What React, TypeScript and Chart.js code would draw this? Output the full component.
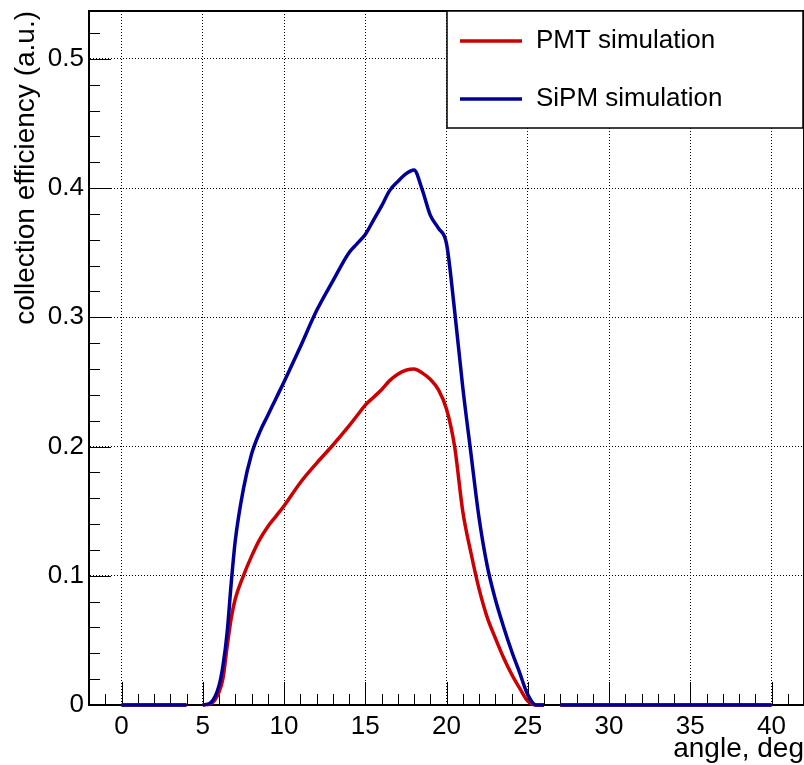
import React, { useEffect, useRef } from "react";
import { Chart, registerables } from "chart.js";

Chart.register(...registerables);

// ---- data ----
const angles = [
  0, 1, 2, 3, 4, 4.5,
  5, 5.5, 6, 6.25, 6.5, 6.75, 7, 7.5, 8, 8.5, 9, 9.5, 10, 11, 12, 13, 14, 14.5, 15, 15.5, 16, 16.5, 17, 17.5,
  18, 18.5, 19, 19.5, 20, 20.5, 21, 21.5, 22, 22.5, 23, 23.5, 24, 24.5, 25, 25.5, 26, 26.5,
  27, 30, 35, 40,
];
const pmtSimulation: (number | null)[] = [
  0, 0, 0, 0, 0, null,
  0, 0.001, 0.01, 0.021, 0.045, 0.067, 0.082, 0.1, 0.115, 0.128, 0.138, 0.146, 0.154, 0.172, 0.187, 0.201, 0.216, 0.224, 0.232, 0.238, 0.244, 0.251, 0.256, 0.259,
  0.26, 0.257, 0.252, 0.244, 0.229, 0.2, 0.15, 0.118, 0.09, 0.068, 0.052, 0.037, 0.024, 0.013, 0.003, 0, 0, null,
  0, 0, 0, 0,
];
const sipmSimulation: (number | null)[] = [
  0, 0, 0, 0, 0, null,
  0, 0.002, 0.015, 0.031, 0.056, 0.094, 0.127, 0.167, 0.194, 0.211, 0.224, 0.237, 0.25, 0.277, 0.305, 0.328, 0.35, 0.357, 0.364, 0.375, 0.386, 0.398, 0.405, 0.411,
  0.414, 0.399, 0.379, 0.369, 0.357, 0.305, 0.246, 0.195, 0.145, 0.108, 0.082, 0.061, 0.042, 0.025, 0.008, 0, 0, null,
  0, 0, 0, 0,
];
const seriesLabels = ["PMT simulation", "SiPM simulation"];
const seriesColors = ["#cc0000", "#000099"];
const xTickValues = [0, 5, 10, 15, 20, 25, 30, 35, 40];
const yTickValues = [0, 0.1, 0.2, 0.3, 0.4, 0.5];
const xTitle = "angle, deg";
const yTitle = "collection efficiency (a.u.)";

const FONT = "'Liberation Sans', Arial, Helvetica, sans-serif";

const rootFramePlugin = {
  id: "rootFrame",
  beforeDatasetsDraw(chart: any) {
    const { ctx, chartArea } = chart;
    const xs = chart.scales.x;
    const ys = chart.scales.y;
    ctx.save();
    ctx.strokeStyle = "#000";
    ctx.lineWidth = 1;
    // x ticks (inside, upward)
    for (let v = -1; v <= 41; v += 1) {
      const px = Math.round(xs.getPixelForValue(v)) + 0.5;
      const len = v % 5 === 0 ? 23 : 11;
      ctx.beginPath();
      ctx.moveTo(px, chartArea.bottom);
      ctx.lineTo(px, chartArea.bottom - len);
      ctx.stroke();
    }
    // y ticks (inside, rightward)
    for (let i = 1; i <= 26; i++) {
      const v = i * 0.02;
      const py = Math.round(ys.getPixelForValue(v)) + 0.5;
      const len = i % 5 === 0 ? 22 : 11;
      ctx.beginPath();
      ctx.moveTo(chartArea.left, py);
      ctx.lineTo(chartArea.left + len, py);
      ctx.stroke();
    }
    // frame
    ctx.lineWidth = 2;
    ctx.strokeRect(chartArea.left, chartArea.top, chartArea.right - chartArea.left, chartArea.bottom - chartArea.top);
    ctx.restore();
  },
  afterDraw(chart: any) {
    const { ctx, chartArea } = chart;
    const bx = 447;
    const by = chartArea.top;
    const bw = 356;
    const bh = 117;
    ctx.save();
    ctx.fillStyle = "#fff";
    ctx.fillRect(bx, by, bw, bh);
    ctx.strokeStyle = "#000";
    ctx.lineWidth = 1.5;
    ctx.strokeRect(bx, by, bw, bh);
    const rows = [by + 30, by + 88];
    chart.data.datasets.forEach((ds: any, i: number) => {
      const y = rows[i];
      ctx.strokeStyle = ds.borderColor;
      ctx.lineWidth = 3.5;
      ctx.beginPath();
      ctx.moveTo(bx + 13, y);
      ctx.lineTo(bx + 75, y);
      ctx.stroke();
      ctx.fillStyle = "#000";
      ctx.font = `26px ${FONT}`;
      ctx.textBaseline = "middle";
      ctx.textAlign = "left";
      ctx.fillText(ds.label, bx + 89, y);
    });
    ctx.restore();
  },
};

export default function App() {
  const ref = useRef<HTMLCanvasElement | null>(null);
  useEffect(() => {
    if (!ref.current) return;
    const mk = (vals: (number | null)[]) => angles.map((a, i) => ({ x: a, y: vals[i] }));
    const chart = new Chart(ref.current, {
      type: "line",
      data: {
        datasets: [
          {
            label: seriesLabels[0],
            data: mk(pmtSimulation),
            borderColor: seriesColors[0],
            backgroundColor: seriesColors[0],
            borderWidth: 3.5,
            pointRadius: 0,
            cubicInterpolationMode: "monotone",
            spanGaps: false,
            clip: false,
            order: 1,
          },
          {
            label: seriesLabels[1],
            data: mk(sipmSimulation),
            borderColor: seriesColors[1],
            backgroundColor: seriesColors[1],
            borderWidth: 3.5,
            pointRadius: 0,
            cubicInterpolationMode: "monotone",
            spanGaps: false,
            clip: false,
            order: 0,
          },
        ],
      } as any,
      options: {
        responsive: false,
        animation: false,
        devicePixelRatio: 1,
        layout: { padding: { top: 11, right: 6, left: 0, bottom: 0 } },
        plugins: { legend: { display: false }, tooltip: { enabled: false } },
        scales: {
          x: {
            type: "linear",
            min: -2,
            max: 42,
            afterFit: (s: any) => { s.height = 60; s.paddingLeft = 0; s.paddingRight = 0; },
            afterBuildTicks: (s: any) => { s.ticks = xTickValues.map((v) => ({ value: v })); },
            grid: { color: "#000", lineWidth: 1, drawTicks: false },
            border: { display: true, color: "#000", width: 1, dash: [1, 2] },
            ticks: {
              autoSkip: false,
              maxRotation: 0,
              padding: 6,
              color: "#000",
              font: { family: FONT, size: 26 },
              callback: (v: any) => String(v),
            },
            title: {
              display: true,
              text: xTitle,
              align: "end",
              color: "#000",
              font: { family: FONT, size: 28, lineHeight: 1.1 },
              padding: { top: 0, bottom: 0 },
            },
          },
          y: {
            type: "linear",
            min: 0,
            max: 0.537,
            afterFit: (s: any) => { s.width = 89; s.paddingTop = 0; s.paddingBottom = 0; },
            afterBuildTicks: (s: any) => { s.ticks = yTickValues.map((v) => ({ value: v })); },
            grid: { color: "#000", lineWidth: 1, drawTicks: false },
            border: { display: true, color: "#000", width: 1, dash: [1, 2] },
            ticks: {
              padding: 5,
              color: "#000",
              font: { family: FONT, size: 26 },
              callback: (v: any) => (v === 0 ? "0" : Number(v).toFixed(1)),
            },
            title: {
              display: true,
              text: yTitle,
              align: "end",
              color: "#000",
              font: { family: FONT, size: 28 },
              padding: { top: 9, bottom: 0 },
            },
          },
        },
      } as any,
      plugins: [rootFramePlugin],
    });
    return () => chart.destroy();
  }, []);
  return (
    <div style={{ position: "fixed", left: 0, top: 0, width: 810, height: 765, background: "#fff" }}>
      <canvas ref={ref} width={810} height={765} style={{ display: "block" }} />
    </div>
  );
}
